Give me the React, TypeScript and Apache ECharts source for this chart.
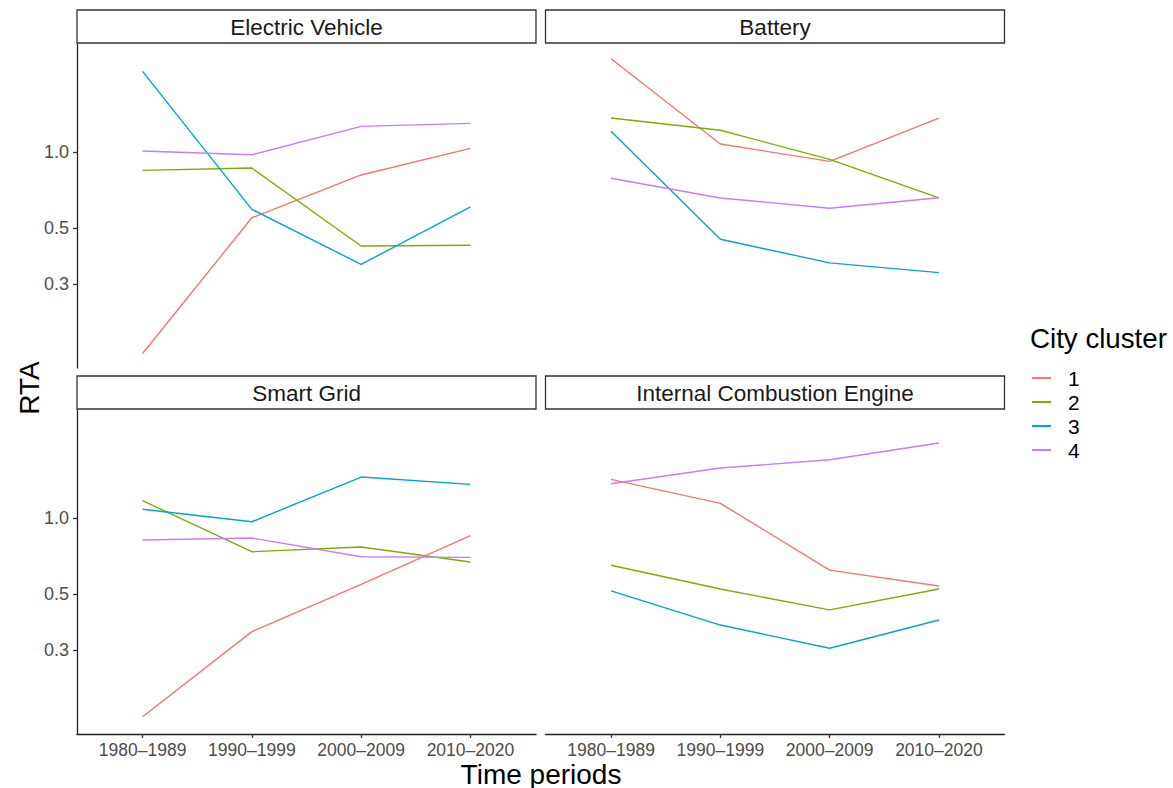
import React, { useEffect, useRef } from "react";
import * as echarts from "echarts";

const periods = ["1980–1989", "1990–1999", "2000–2009", "2010–2020"];
const facets = ["Electric Vehicle", "Battery", "Smart Grid", "Internal Combustion Engine"];
const clusters = ["1", "2", "3", "4"];
const clusterColors = ["#F8766D", "#7CAE00", "#00A6CC", "#C77CFF"];
const yTickValues = [0.3, 0.5, 1.0];

// RTA values per cluster (1..4), per period
const electricVehicle = [
  [0.159, 0.55, 0.813, 1.037],
  [0.848, 0.866, 0.425, 0.428],
  [2.096, 0.594, 0.359, 0.608],
  [1.012, 0.978, 1.268, 1.303],
];
const battery = [
  [2.352, 1.079, 0.921, 1.368],
  [1.368, 1.223, 0.938, 0.659],
  [1.211, 0.452, 0.364, 0.333],
  [0.789, 0.659, 0.6, 0.66],
];
const smartGrid = [
  [0.163, 0.355, 0.547, 0.853],
  [1.175, 0.737, 0.769, 0.671],
  [1.086, 0.969, 1.458, 1.364],
  [0.82, 0.835, 0.704, 0.7],
];
const combustionEngine = [
  [1.428, 1.147, 0.623, 0.539],
  [0.651, 0.524, 0.433, 0.524],
  [0.515, 0.377, 0.305, 0.395],
  [1.372, 1.583, 1.708, 1.99],
];
const facetData = [electricVehicle, battery, smartGrid, combustionEngine];

const FONT = "'Liberation Sans', Arial, Helvetica, sans-serif";

export default function App() {
  const ref = useRef<HTMLDivElement>(null);

  useEffect(() => {
    if (!ref.current) return;
    const chart = echarts.init(ref.current, null, { renderer: "svg" });

    const panelW = 459;
    const panelH = 324;
    const lefts = [77, 545.5, 77, 545.5];
    const tops = [44, 44, 410, 410];
    const yMin = 0.1393;
    const yMax = 2.691;

    const axisLineStyle = { color: "#222", width: 1.3 };

    const grids = facets.map((_, i) => ({
      left: lefts[i],
      top: tops[i],
      width: panelW,
      height: panelH,
      containLabel: false,
    }));

    const xAxes = facets.map((_, i) => {
      const showX = i >= 2;
      return {
        type: "value",
        gridIndex: i,
        min: 0.4,
        max: 4.6,
        show: showX,
        splitLine: { show: false },
        axisLine: { show: showX, onZero: false, lineStyle: axisLineStyle },
        axisTick: {
          show: showX,
          length: 4,
          lineStyle: { color: "#333", width: 1.3 },
          customValues: [1, 2, 3, 4],
        },
        axisLabel: {
          show: showX,
          customValues: [1, 2, 3, 4],
          formatter: (v: number) => periods[Math.round(v) - 1] ?? "",
          color: "#4D4D4D",
          fontSize: 17.5,
          fontFamily: FONT,
          margin: 7,
        },
      };
    });

    const yAxes = facets.map((_, i) => {
      const showY = i % 2 === 0;
      return {
        type: "log",
        logBase: 10,
        gridIndex: i,
        min: yMin,
        max: yMax,
        show: showY,
        splitLine: { show: false },
        axisLine: { show: showY, onZero: false, lineStyle: axisLineStyle },
        axisTick: {
          show: showY,
          length: 4,
          lineStyle: { color: "#333", width: 1.3 },
          customValues: yTickValues,
        },
        axisLabel: {
          show: showY,
          customValues: yTickValues,
          formatter: (v: number) => Number(v).toFixed(1),
          color: "#4D4D4D",
          fontSize: 18,
          fontFamily: FONT,
          margin: 8,
        },
      };
    });

    const series: any[] = [];
    facetData.forEach((facet, f) => {
      facet.forEach((vals, c) => {
        series.push({
          type: "line",
          name: clusters[c],
          xAxisIndex: f,
          yAxisIndex: f,
          symbol: "none",
          color: clusterColors[c],
          lineStyle: { width: 1.4, color: clusterColors[c] },
          data: periods.map((_, k) => [k + 1, vals[k]]),
        });
      });
    });

    const graphics: any[] = [];
    facets.forEach((name, i) => {
      const x = lefts[i];
      const y = tops[i] - 34;
      graphics.push({
        type: "rect",
        shape: { x, y, width: panelW, height: 33 },
        style: { fill: "#fff", stroke: "#333", lineWidth: 1.3 },
      });
      graphics.push({
        type: "text",
        x: x + panelW / 2,
        y: y + 17,
        style: {
          text: name,
          fill: "#1A1A1A",
          fontSize: 22.5,
          fontFamily: FONT,
          align: "center",
          verticalAlign: "middle",
        },
      });
    });
    graphics.push({
      type: "text",
      x: 541,
      y: 774,
      style: {
        text: "Time periods",
        fill: "#000",
        fontSize: 28,
        fontFamily: FONT,
        align: "center",
        verticalAlign: "middle",
      },
    });
    graphics.push({
      type: "text",
      x: 29,
      y: 388,
      rotation: Math.PI / 2,
      style: {
        text: "RTA",
        fill: "#000",
        fontSize: 28,
        fontFamily: FONT,
        align: "center",
        verticalAlign: "middle",
      },
    });
    graphics.push({
      type: "text",
      x: 1030,
      y: 338,
      style: {
        text: "City cluster",
        fill: "#000",
        fontSize: 27.7,
        fontFamily: FONT,
        align: "left",
        verticalAlign: "middle",
      },
    });

    chart.setOption({
      animation: false,
      backgroundColor: "#fff",
      grid: grids,
      xAxis: xAxes,
      yAxis: yAxes,
      legend: {
        data: clusters.map((c) => ({ name: c, icon: "rect" })),
        orient: "vertical",
        left: 1027,
        top: 361,
        itemWidth: 19,
        itemHeight: 2,
        itemGap: 0,
        selectedMode: false,
        textStyle: {
          fontSize: 21,
          fontFamily: FONT,
          color: "#000",
          lineHeight: 24,
          padding: [0, 0, 0, 12],
        },
      },
      series,
      graphic: graphics,
    });

    return () => chart.dispose();
  }, []);

  return (
    <div
      ref={ref}
      style={{ position: "fixed", left: 0, top: 0, width: 1173, height: 788, background: "#fff" }}
    />
  );
}
